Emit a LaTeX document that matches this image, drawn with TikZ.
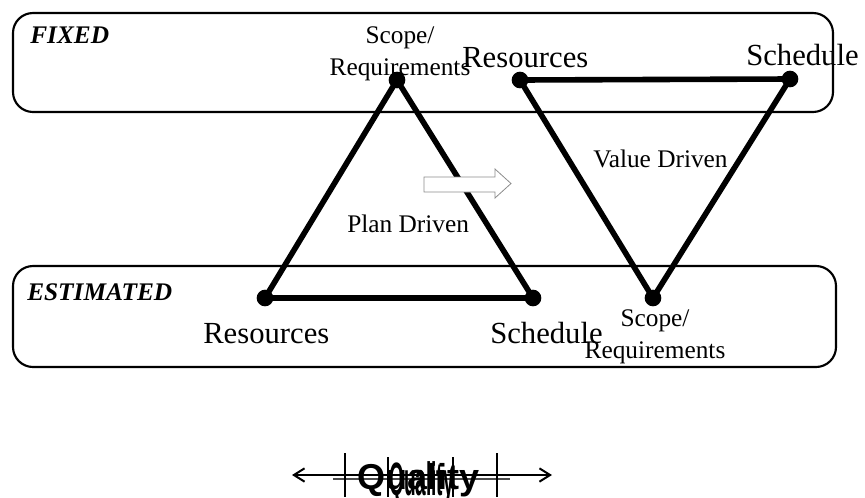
\documentclass[tikz,border=0pt]{standalone}
\usepackage{fontspec}
\setmainfont{Liberation Serif}
\newfontfamily\qfont{Liberation Sans}
\usetikzlibrary{arrows.meta}
\begin{document}
\begin{tikzpicture}[x=0.75pt,y=-0.75pt,
  panel/.style={draw=black,line width=1.6pt,rounded corners=15pt},
  tag/.style={inner sep=0pt,anchor=base west,font=\fontsize{19}{23}\selectfont\bfseries\itshape},
  small/.style={inner sep=0pt,font=\fontsize{19}{24}\selectfont},
  big/.style={inner sep=0pt,anchor=base west,font=\fontsize{23}{27}\selectfont},
  vertex/.style={circle,fill=black,inner sep=0pt,minimum size=12.5pt},
  edge/.style={line width=4.2pt,line join=round},
  blockarrow/.style={draw=black!45,line width=0.6pt,fill=white},
  qline/.style={line width=1.5pt},
  qtext/.style={inner sep=0pt,anchor=base west,font=\qfont\bfseries\fontsize{27}{31}\selectfont}
]
\useasboundingbox (0,0) rectangle (865,497);

% panels
\draw[panel] (13,13) rectangle (833,112);
\draw[panel] (13,266) rectangle (836,367);
\node[tag] (fixed) at (30,43) {FIXED};
\node[tag] (estimated) at (27,300) {ESTIMATED};

% plan driven triangle
\node[vertex] (pS) at (397,80) {};
\node[vertex] (pR) at (265,298) {};
\node[vertex] (pT) at (533,298) {};
\draw[edge] (pS.center) -- (pR.center) -- (pT.center) -- cycle;

% value driven triangle
\node[vertex] (vR) at (520,80) {};
\node[vertex] (vT) at (790,79) {};
\node[vertex] (vS) at (653,298) {};
\draw[edge] (vR.center) -- (vT.center) -- (vS.center) -- cycle;

% block arrow
\draw[blockarrow] (424,177) -- (495,177) -- (495,169) -- (511,183.5) -- (495,198) -- (495,192) -- (424,192) -- cycle;

% labels
\node[small,anchor=base,align=center] (pSl) at (400,75) {Scope/\\Requirements};
\node[big] (vRl) at (462,67) {Resources};
\node[big] (vTl) at (746,65) {Schedule};
\node[small,anchor=base west] (plan) at (347,232) {Plan Driven};
\node[small,anchor=base west] (value) at (593,167) {Value Driven};
\node[big] (pRl) at (203,343) {Resources};
\node[big] (pTl) at (490,343) {Schedule};
\node[small,anchor=base,align=center] (vSl) at (655,358) {Scope/\\Requirements};

% quality scale
\coordinate (qa) at (292,475);
\coordinate (qb) at (552,475);
\coordinate (qc) at (333,479);
\coordinate (qd) at (510,479);
\draw[qline,black!70] (qc) -- (qd);
\draw[qline,{Straight Barb[length=8pt,width=10pt]}-{Straight Barb[length=8pt,width=10pt]}] (qa) -- (qb);
\node[qtext] (q1) at (357,489) {Quality};
\node[qtext] (q2) at (389,495) {\scalebox{0.53}[1.3]{Quality}};
\coordinate (b1) at (345,453); \coordinate (b1e) at (345,497);
\coordinate (b2) at (388,457); \coordinate (b2e) at (388,497);
\coordinate (b3) at (453,457); \coordinate (b3e) at (453,497);
\coordinate (b4) at (497,453); \coordinate (b4e) at (497,497);
\draw[qline] (b1) -- (b1e);
\draw[qline] (b2) -- (b2e);
\draw[qline] (b3) -- (b3e);
\draw[qline] (b4) -- (b4e);
\end{tikzpicture}
\end{document}
